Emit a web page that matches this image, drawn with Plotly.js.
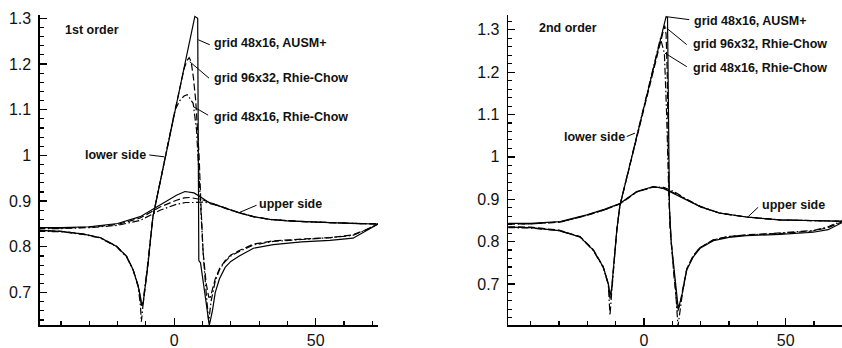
<!DOCTYPE html>
<html>
<head>
<meta charset="utf-8">
<script src="https://cdn.plot.ly/plotly-3.0.1.min.js"></script>
<style>html,body{margin:0;padding:0;background:#fff;}#chart{width:842px;height:348px;}</style>
</head>
<body>
<div id="chart"></div>
<script>
// ---------- 1st order (left panel) ----------
const o1_ausm_lower_x = [-48, -40, -32, -26, -20.3, -16.8, -14.5, -12.7, -11.9, -11.5, -10.9, -10.2, -9.2, -8.3, -7.5, 7.3, 8.3, 8.7, 9.3, 10.8, 12.4, 13.5, 14.5, 16, 18, 20, 23, 28, 35, 45, 55, 63.2, 72];
const o1_ausm_lower_y = [0.836, 0.834, 0.828, 0.820, 0.801, 0.779, 0.750, 0.714, 0.690, 0.672, 0.680, 0.710, 0.764, 0.820, 0.866, 1.304, 1.300, 0.770, 0.765, 0.700, 0.628, 0.660, 0.700, 0.730, 0.755, 0.768, 0.780, 0.797, 0.805, 0.811, 0.814, 0.819, 0.850];
const o1_ausm_upper_x = [-48, -40, -30, -20, -12, -5, 0.8, 3.8, 7, 9.1, 12, 16, 20, 23.2, 28, 33.8, 40, 45.5, 55, 65, 72];
const o1_ausm_upper_y = [0.842, 0.842, 0.844, 0.851, 0.866, 0.891, 0.913, 0.921, 0.918, 0.910, 0.898, 0.889, 0.880, 0.874, 0.866, 0.860, 0.857, 0.855, 0.853, 0.851, 0.850];

const o1_rc96_lower_x = [-48, -40, -32, -26, -20.3, -16.8, -14.5, -12.7, -11.9, -11.5, -10.9, -10.2, -9.2, -8.3, -7.5, 0, 2, 3.5, 4.5, 5.3, 6.0, 6.8, 7.6, 8.3, 8.8, 9.4, 10.2, 11.3, 12.2, 12.8, 13.5, 14.5, 16, 18, 20, 23, 28, 35, 45, 55, 63, 68, 72];
const o1_rc96_lower_y = [0.836, 0.834, 0.828, 0.820, 0.801, 0.779, 0.750, 0.714, 0.688, 0.668, 0.678, 0.710, 0.764, 0.820, 0.866, 1.090, 1.150, 1.190, 1.207, 1.214, 1.205, 1.170, 1.120, 1.060, 1.000, 0.900, 0.790, 0.720, 0.690, 0.690, 0.705, 0.730, 0.752, 0.770, 0.782, 0.792, 0.806, 0.813, 0.817, 0.820, 0.826, 0.838, 0.850];
const o1_rc96_upper_x = [-48, -40, -30, -20, -12, -5, 0.8, 3.5, 5.5, 8, 10, 12, 16, 20, 23.2, 28, 33.8, 40, 45.5, 55, 65, 72];
const o1_rc96_upper_y = [0.841, 0.841, 0.843, 0.849, 0.863, 0.887, 0.902, 0.907, 0.908, 0.906, 0.903, 0.898, 0.889, 0.880, 0.874, 0.866, 0.860, 0.857, 0.855, 0.853, 0.851, 0.850];

const o1_rc48_lower_x = [-48, -40, -32, -26, -20.3, -16.8, -14.5, -12.7, -11.9, -11.6, -11.2, -10.6, -9.5, -8.4, -7.5, 0.3, 2, 3.5, 4.6, 5.5, 6.7, 7.9, 8.7, 9.5, 10.3, 11.3, 12.2, 13, 14.5, 16, 18, 20, 23, 28, 35, 45, 55, 63, 67, 72];
const o1_rc48_lower_y = [0.834, 0.833, 0.827, 0.819, 0.800, 0.778, 0.749, 0.712, 0.670, 0.636, 0.660, 0.700, 0.755, 0.820, 0.866, 1.100, 1.120, 1.130, 1.133, 1.125, 1.114, 1.056, 0.970, 0.860, 0.780, 0.700, 0.636, 0.680, 0.725, 0.750, 0.768, 0.780, 0.790, 0.804, 0.812, 0.816, 0.820, 0.825, 0.835, 0.850];
const o1_rc48_upper_x = [-48, -40, -30, -20, -12, -5, 0.8, 4, 7, 10, 12, 16, 20, 23.2, 28, 33.8, 40, 45.5, 55, 65, 72];
const o1_rc48_upper_y = [0.840, 0.840, 0.842, 0.847, 0.858, 0.880, 0.893, 0.897, 0.897, 0.898, 0.896, 0.889, 0.880, 0.874, 0.866, 0.860, 0.857, 0.855, 0.853, 0.851, 0.850];

// ---------- 2nd order (right panel) ----------
const o2_ausm_lower_x = [-48, -40, -30, -22.6, -17.9, -14.4, -12.6, -12.0, -11.4, -10.8, -9.6, -8.5, 7.8, 8.3, 8.6, 9.0, 9.6, 10.9, 12.1, 13.3, 15.1, 17.4, 19.8, 24.5, 30, 36.2, 48, 59.7, 65, 70];
const o2_ausm_lower_y = [0.834, 0.833, 0.826, 0.811, 0.780, 0.740, 0.701, 0.672, 0.690, 0.733, 0.827, 0.885, 1.331, 1.329, 1.100, 0.880, 0.800, 0.710, 0.642, 0.670, 0.733, 0.764, 0.784, 0.802, 0.810, 0.814, 0.817, 0.822, 0.828, 0.845];
const o2_ausm_upper_x = [-48, -40, -29.6, -20.2, -14, -8.5, -2.6, 3.3, 7, 10.3, 15.1, 20, 26.8, 36.2, 48, 60, 70];
const o2_ausm_upper_y = [0.843, 0.843, 0.847, 0.863, 0.876, 0.890, 0.918, 0.930, 0.925, 0.914, 0.898, 0.882, 0.867, 0.858, 0.851, 0.849, 0.848];

const o2_rc96_lower_x = [-48, -40, -30, -22.6, -17.9, -14.4, -12.6, -12.0, -11.4, -10.8, -9.6, -8.5, 7.3, 7.8, 8.2, 8.6, 9.1, 10.7, 11.9, 12.6, 13.4, 15.1, 17.4, 19.8, 24.5, 30, 36.2, 48, 59.7, 65, 70];
const o2_rc96_lower_y = [0.835, 0.834, 0.827, 0.812, 0.781, 0.741, 0.700, 0.665, 0.688, 0.733, 0.827, 0.885, 1.310, 1.290, 1.200, 1.000, 0.840, 0.710, 0.635, 0.650, 0.678, 0.736, 0.767, 0.786, 0.804, 0.812, 0.816, 0.819, 0.825, 0.833, 0.847];
const o2_rc96_upper_x = [-48, -40, -29.6, -20.2, -14, -8.5, -2.6, 3.3, 7, 10.3, 15.1, 20, 26.8, 36.2, 48, 60, 70];
const o2_rc96_upper_y = [0.842, 0.842, 0.846, 0.862, 0.875, 0.889, 0.917, 0.929, 0.926, 0.916, 0.899, 0.882, 0.867, 0.858, 0.851, 0.849, 0.848];

const o2_rc48_lower_x = [-48, -40, -30, -22.6, -17.9, -14.4, -12.6, -12.0, -11.4, -10.8, -9.6, -8.5, 5.8, 7.2, 8.0, 8.8, 9.6, 11.0, 12.0, 12.8, 13.6, 15.1, 17.4, 19.8, 24.5, 30, 36.2, 48, 59.7, 65, 70];
const o2_rc48_lower_y = [0.833, 0.832, 0.826, 0.811, 0.779, 0.739, 0.698, 0.626, 0.680, 0.733, 0.827, 0.885, 1.280, 1.245, 1.100, 0.900, 0.800, 0.700, 0.600, 0.640, 0.680, 0.735, 0.766, 0.786, 0.804, 0.812, 0.815, 0.819, 0.826, 0.835, 0.849];
const o2_rc48_upper_x = [-48, -40, -29.6, -20.2, -14, -8.5, -2.6, 3.3, 7, 10.3, 15.1, 20, 26.8, 36.2, 48, 60, 70];
const o2_rc48_upper_y = [0.842, 0.842, 0.846, 0.862, 0.875, 0.889, 0.917, 0.929, 0.928, 0.919, 0.900, 0.883, 0.867, 0.858, 0.851, 0.849, 0.848];

// ---------- text ----------
const panelTitles = ['1st order', '2nd order'];
const seriesLabels = ['grid 48x16, AUSM+', 'grid 96x32, Rhie-Chow', 'grid 48x16, Rhie-Chow'];
const sideLabels = ['lower side', 'upper side'];
const xTickVals = [0, 50];

// ---------- styles ----------
const DASH = ['solid', '7px,3px', '7px,2.5px,1.5px,2.5px'];
const LW = 1.2;

function tr(x, y, style, xa, ya) {
  return {x: x, y: y, type: 'scatter', mode: 'lines', xaxis: xa, yaxis: ya,
    line: {color: '#000', width: LW, dash: DASH[style]}, hoverinfo: 'skip'};
}

const traces = [
  tr(o1_ausm_lower_x, o1_ausm_lower_y, 0, 'x', 'y'),
  tr(o1_ausm_upper_x, o1_ausm_upper_y, 0, 'x', 'y'),
  tr(o1_rc96_lower_x, o1_rc96_lower_y, 1, 'x', 'y'),
  tr(o1_rc96_upper_x, o1_rc96_upper_y, 1, 'x', 'y'),
  tr(o1_rc48_lower_x, o1_rc48_lower_y, 2, 'x', 'y'),
  tr(o1_rc48_upper_x, o1_rc48_upper_y, 2, 'x', 'y'),
  tr(o2_ausm_lower_x, o2_ausm_lower_y, 0, 'x2', 'y2'),
  tr(o2_ausm_upper_x, o2_ausm_upper_y, 0, 'x2', 'y2'),
  tr(o2_rc96_lower_x, o2_rc96_lower_y, 1, 'x2', 'y2'),
  tr(o2_rc96_upper_x, o2_rc96_upper_y, 1, 'x2', 'y2'),
  tr(o2_rc48_lower_x, o2_rc48_lower_y, 2, 'x2', 'y2'),
  tr(o2_rc48_upper_x, o2_rc48_upper_y, 2, 'x2', 'y2')
];

const FONT = 'Liberation Sans, Arial, Helvetica, sans-serif';

function axBase(extra) {
  return Object.assign({
    showline: true, linecolor: '#000', linewidth: 1.6, mirror: false,
    showgrid: false, zeroline: false,
    ticks: 'inside', ticklen: 7, tickwidth: 1.3, tickcolor: '#000',
    tickfont: {family: FONT, size: 16, color: '#111'},
    fixedrange: true
  }, extra);
}

const layout = {
  width: 842, height: 348,
  margin: {l: 0, r: 0, t: 15, b: 23, pad: 0},
  paper_bgcolor: '#fff', plot_bgcolor: '#fff',
  showlegend: false,
  font: {family: FONT, color: '#111'},
  xaxis: axBase({domain: [40 / 842, 378 / 842], range: [-47.4, 72], anchor: 'y',
    tickmode: 'array', tickvals: xTickVals,
    minor: {ticks: 'inside', dtick: 10, tick0: 0, ticklen: 4, tickwidth: 1.1, tickcolor: '#000', showgrid: false}}),
  yaxis: axBase({domain: [0, 1], range: [0.629, 1.3072], anchor: 'x', dtick: 0.1, tick0: 0,
    ticklabelstandoff: 4,
    minor: {ticks: 'inside', dtick: 0.02, tick0: 0, ticklen: 4, tickwidth: 1.1, tickcolor: '#000', showgrid: false}}),
  xaxis2: axBase({domain: [508.3 / 842, 1], range: [-47.9, 69.9], anchor: 'y2',
    tickmode: 'array', tickvals: xTickVals,
    minor: {ticks: 'inside', dtick: 10, tick0: 0, ticklen: 4, tickwidth: 1.1, tickcolor: '#000', showgrid: false}}),
  yaxis2: axBase({domain: [0, 1], range: [0.603, 1.335], anchor: 'x2', dtick: 0.1, tick0: 0,
    ticklabelstandoff: 4,
    minor: {ticks: 'inside', dtick: 0.02, tick0: 0, ticklen: 4, tickwidth: 1.1, tickcolor: '#000', showgrid: false}}),
  annotations: [],
  shapes: []
};

const LBL = {family: FONT, size: 12.5, color: '#111', weight: 'bold'};
function label(text, xa, ya, x, y, anchor) {
  layout.annotations.push({text: text, xref: xa, yref: ya, x: x, y: y, xanchor: anchor, yanchor: 'middle',
    showarrow: false, font: LBL});
}
function leader(xa, ya, x0, y0, x1, y1) {
  layout.shapes.push({type: 'line', xref: xa, yref: ya, x0: x0, y0: y0, x1: x1, y1: y1,
    line: {color: '#000', width: 1}});
}

// left panel labels
label(panelTitles[0], 'x', 'y', -39.3, 1.274, 'left');
label(seriesLabels[0], 'x', 'y', 13.2, 1.245, 'left');
leader('x', 'y', 8.5, 1.253, 12.6, 1.242);
label(seriesLabels[1], 'x', 'y', 13.2, 1.169, 'left');
leader('x', 'y', 5.5, 1.205, 12.3, 1.169);
label(seriesLabels[2], 'x', 'y', 13.2, 1.083, 'left');
leader('x', 'y', 6.7, 1.107, 12.0, 1.088);
label(sideLabels[0], 'x', 'y', -9.2, 1.002, 'right');
leader('x', 'y', -8.8, 1.001, -3.6, 0.997);
label(sideLabels[1], 'x', 'y', 29.3, 0.894, 'left');
leader('x', 'y', 29.1, 0.891, 22.6, 0.874);

// right panel labels
label(panelTitles[1], 'x2', 'y2', -37.6, 1.304, 'left');
label(seriesLabels[0], 'x2', 'y2', 16.8, 1.320, 'left');
leader('x2', 'y2', 8.0, 1.331, 16.0, 1.324);
label(seriesLabels[1], 'x2', 'y2', 16.5, 1.267, 'left');
leader('x2', 'y2', 8.0, 1.304, 15.1, 1.265);
label(seriesLabels[2], 'x2', 'y2', 16.5, 1.209, 'left');
leader('x2', 'y2', 7.4, 1.245, 15.1, 1.213);
label(sideLabels[0], 'x2', 'y2', -6.1, 1.048, 'right');
leader('x2', 'y2', -6.1, 1.048, -3.2, 1.056);
label(sideLabels[1], 'x2', 'y2', 40.9, 0.886, 'left');
leader('x2', 'y2', 40.3, 0.881, 36.8, 0.859);

Plotly.newPlot('chart', traces, layout, {staticPlot: true, displayModeBar: false});
</script>
</body>
</html>
